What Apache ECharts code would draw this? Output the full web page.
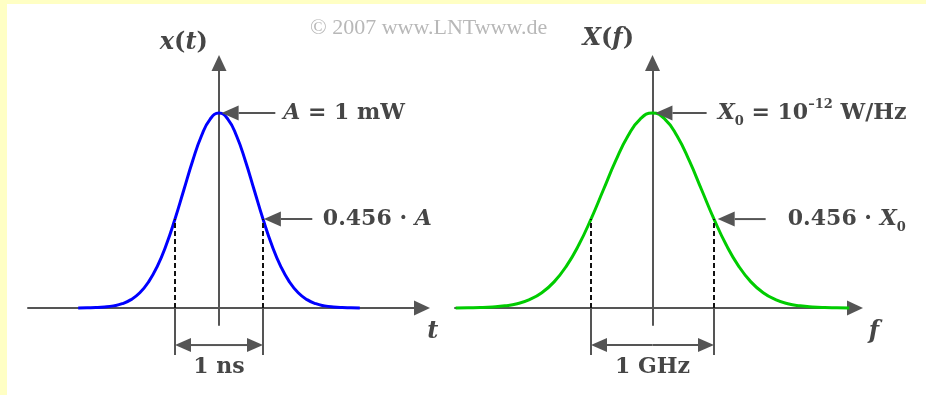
<!DOCTYPE html>
<html>
<head>
<meta charset="utf-8">
<script src="https://cdn.jsdelivr.net/npm/echarts@6/dist/echarts.min.js"></script>
<style>
  html, body { margin: 0; padding: 0; width: 926px; height: 395px; background: #ffffc4; overflow: hidden; }
  #chart { position: absolute; left: 7px; top: 4px; width: 919px; height: 391px; background: #ffffff; }
</style>
</head>
<body>
<div id="chart"></div>
<script>
// Gaussian pulse x(t) in the time domain (t in ns, x/A)
const timeNs = [-1.6,-1.5,-1.4,-1.3,-1.2,-1.1,-1.0,-0.9,-0.8,-0.7,-0.6,-0.5,-0.4,-0.3,-0.2,-0.1,0,
                0.1,0.2,0.3,0.4,0.5,0.6,0.7,0.8,0.9,1.0,1.1,1.2,1.3,1.4,1.5,1.6];
const pulseValue = [0.000,0.001,0.002,0.005,0.011,0.022,0.043,0.078,0.134,0.215,0.323,0.456,0.605,0.754,0.882,0.969,1.000,
                    0.969,0.882,0.754,0.605,0.456,0.323,0.215,0.134,0.078,0.043,0.022,0.011,0.005,0.002,0.001,0.000];

// Its spectrum X(f) (f in GHz, X/X0)
const freqGHz = [-1.6,-1.5,-1.4,-1.3,-1.2,-1.1,-1.0,-0.9,-0.8,-0.7,-0.6,-0.5,-0.4,-0.3,-0.2,-0.1,0,
                 0.1,0.2,0.3,0.4,0.5,0.6,0.7,0.8,0.9,1.0,1.1,1.2,1.3,1.4,1.5,1.6];
const spectrumValue = [0.000,0.001,0.002,0.005,0.011,0.022,0.043,0.078,0.134,0.215,0.323,0.456,0.605,0.754,0.882,0.969,1.000,
                       0.969,0.882,0.754,0.605,0.456,0.323,0.215,0.134,0.078,0.043,0.022,0.011,0.005,0.002,0.001,0.000];

// Equivalent-width markers and the level they cross
const timeMarkers = [-0.5, 0.5];
const freqMarkers = [-0.5, 0.5];
const markerLevel = 0.456;

const FONT = "'DejaVu Serif', 'Liberation Serif', serif";
const INK = '#464646';
const AXIS = '#555555';

function tok(size, italic, lh, va) {
  const t = { fontFamily: FONT, fontSize: size, fontWeight: 'bold', fontStyle: italic ? 'italic' : 'normal',
              fill: INK, color: INK, lineHeight: lh };
  if (va) t.verticalAlign = va;
  return t;
}
const RICH = {
  n: tok(22, false, 30),
  i: tok(22, true, 30),
  N: tok(24, false, 30),
  I: tok(24, true, 30),
  sub: tok(13, false, 12, 'bottom'),
  sup: tok(13, false, 12, 'top')
};

function textEl(p, text, align) {
  return {
    type: 'text', x: p[0], y: p[1],
    style: { text: text, rich: RICH, align: align || 'left', verticalAlign: 'middle',
             textAlign: align || 'left', textVerticalAlign: 'middle',
             font: 'bold 22px ' + FONT, fill: INK }
  };
}

function arrow(from, tip, len, wid) {
  const dx = tip[0] - from[0], dy = tip[1] - from[1];
  const d = Math.hypot(dx, dy), ux = dx / d, uy = dy / d;
  const bx = tip[0] - ux * len, by = tip[1] - uy * len;
  return [
    { type: 'line', shape: { x1: from[0], y1: from[1], x2: bx, y2: by }, style: { stroke: AXIS, lineWidth: 2 } },
    { type: 'polygon', shape: { points: [tip, [bx - uy * wid / 2, by + ux * wid / 2], [bx + uy * wid / 2, by - ux * wid / 2]] },
      style: { fill: AXIS } }
  ];
}

// Annotation layer for one panel, positioned in data units of that panel
function annotations(cfg) {
  return function (params, api) {
    const c = (x, y) => api.coord([x, y]);
    const kids = [];
    const dimY = -0.19, barBottom = -0.241;
    cfg.markers.forEach(m => {
      kids.push({ type: 'line', shape: { x1: c(m, 0)[0], y1: c(m, 0)[1], x2: c(m, markerLevel)[0], y2: c(m, markerLevel)[1] },
                  style: { stroke: '#111', lineWidth: 2, lineDash: [5, 3] } });
      kids.push({ type: 'line', shape: { x1: c(m, 0)[0], y1: c(m, 0)[1], x2: c(m, barBottom)[0], y2: c(m, barBottom)[1] },
                  style: { stroke: AXIS, lineWidth: 2 } });
    });
    const mid = (cfg.markers[0] + cfg.markers[1]) / 2;
    kids.push(...arrow(c(mid, dimY), c(cfg.markers[0], dimY), 16, 14));
    kids.push(...arrow(c(mid, dimY), c(cfg.markers[1], dimY), 16, 14));
    kids.push(textEl(c(mid, -0.305), cfg.width, 'center'));
    // peak annotation
    kids.push(...arrow(c(cfg.peakTail, 1), c(cfg.peakTip, 1), 17, 15));
    kids.push(textEl(c(cfg.peakText, 1.0), cfg.peakLabel, 'left'));
    // level annotation
    kids.push(...arrow(c(cfg.levelTail, markerLevel), c(cfg.levelTip, markerLevel), 17, 15));
    kids.push(textEl(c(cfg.levelText, markerLevel), cfg.levelLabel, 'left'));
    // axis names
    kids.push(textEl(c(cfg.yName[0], cfg.yName[1]), cfg.yLabel, 'center'));
    kids.push(textEl(c(cfg.xName[0], cfg.xName[1]), cfg.xLabel, 'center'));
    return { type: 'group', children: kids };
  };
}

function axisPair(idx, min, max) {
  const common = {
    axisTick: { show: false }, axisLabel: { show: false }, splitLine: { show: false },
    axisLine: { onZero: true, symbol: ['none', 'triangle'], symbolSize: [15, 16], lineStyle: { color: AXIS, width: 2 } }
  };
  return {
    x: Object.assign({ type: 'value', gridIndex: idx, min: min, max: max }, common),
    y: Object.assign({ type: 'value', gridIndex: idx, min: -0.0872, max: 1.2564 }, common)
  };
}

const left = axisPair(0, -2.1705, 2.3068);
const right = axisPair(1, -1.6057, 1.6463);

const chart = echarts.init(document.getElementById('chart'), null, { renderer: 'canvas' });
chart.setOption({
  animation: false,
  backgroundColor: '#ffffff',
  grid: [
    { left: 21, top: 59, width: 394, height: 262 },
    { left: 448, top: 59, width: 400, height: 262 }
  ],
  xAxis: [left.x, right.x],
  yAxis: [left.y, right.y],
  graphic: [{
    type: 'text', left: 303, top: 13,
    style: { text: '\u00A9 2007 www.LNTwww.de', font: "22px 'Liberation Serif', serif", fill: '#b8b8b8' }
  }],
  series: [
    { type: 'line', xAxisIndex: 0, yAxisIndex: 0, data: timeNs.map((t, k) => [t, pulseValue[k]]),
      smooth: true, showSymbol: false, lineStyle: { color: '#0000ff', width: 3 }, z: 3 },
    { type: 'line', xAxisIndex: 1, yAxisIndex: 1, data: freqGHz.map((f, k) => [f, spectrumValue[k]]),
      smooth: true, showSymbol: false, lineStyle: { color: '#00cc00', width: 3 }, z: 3 },
    { type: 'custom', xAxisIndex: 0, yAxisIndex: 0, clip: false, data: [[0, 0]], z: 4,
      renderItem: annotations({
        markers: timeMarkers, width: '{n|1 ns}',
        peakTip: 0.03, peakTail: 0.64, peakText: 0.73, peakLabel: '{i|A}{n| = 1 mW}',
        levelTip: 0.51, levelTail: 1.06, levelText: 1.18, levelLabel: '{n|0.456 · }{i|A}',
        yName: [-0.40, 1.36], yLabel: '{I|x}{N|(}{I|t}{N|)}',
        xName: [2.43, -0.123], xLabel: '{I|t}'
      }) },
    { type: 'custom', xAxisIndex: 1, yAxisIndex: 1, clip: false, data: [[0, 0]], z: 4,
      renderItem: annotations({
        markers: freqMarkers, width: '{n|1 GHz}',
        peakTip: 0.024, peakTail: 0.44, peakText: 0.53, peakLabel: '{i|X}{sub|0}{n| = 10}{sup|\u201312}{n| W/Hz}',
        levelTip: 0.53, levelTail: 0.92, levelText: 1.10, levelLabel: '{n|0.456 · }{i|X}{sub|0}',
        yName: [-0.36, 1.38], yLabel: '{I|X}{N|(}{I|f}{N|)}',
        xName: [1.80, -0.123], xLabel: '{I|f}'
      }) }
  ]
});
</script>
</body>
</html>
